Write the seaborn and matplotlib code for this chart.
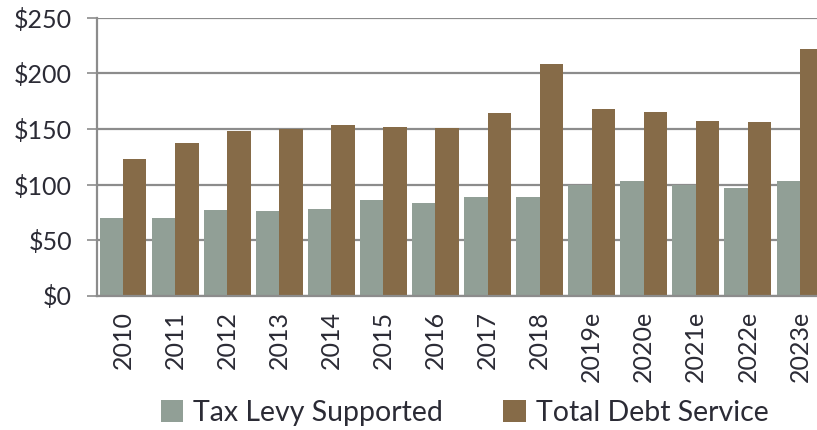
import matplotlib
matplotlib.use("Agg")
import matplotlib.pyplot as plt
import seaborn as sns
import pandas as pd
import numpy as np

years = ["2010", "2011", "2012", "2013", "2014", "2015", "2016",
         "2017", "2018", "2019e", "2020e", "2021e", "2022e", "2023e"]
tax_levy = [70, 70, 77, 76, 78, 86, 83, 89, 89, 100, 103, 100, 97, 103]
total_debt = [123, 137, 148, 150, 154, 152, 151, 164, 209, 168, 165, 157, 156, 222]
series = ["Tax Levy Supported", "Total Debt Service"]
colors = ["#919f96", "#866b48"]

df = pd.DataFrame({
    "Year": years * 2,
    "Amount": tax_levy + total_debt,
    "Series": [series[0]] * len(years) + [series[1]] * len(years),
})

sns.set_style("white")
plt.rcParams["font.family"] = ["Lato", "DejaVu Sans"]
text_color = "#2b2b35"
line_color = "#8c8c8c"

fig = plt.figure(figsize=(8.17, 4.30), dpi=100)
ax = fig.add_axes([97 / 817, (430 - 295.5) / 430, 729 / 817, 277.5 / 430])

sns.barplot(data=df, x="Year", y="Amount", hue="Series", palette=colors,
            width=0.9, saturation=1, linewidth=0, ax=ax)

ax.set_ylim(0, 250)
ax.set_xlim(-0.5, len(years) - 0.5)
ax.set_yticks(range(0, 251, 50))
ax.set_yticklabels([f"${v}" for v in range(0, 251, 50)])
ax.set_axisbelow(True)
ax.yaxis.grid(True, color=line_color, lw=1.6)
ax.xaxis.grid(False)

ax.set_xticks(np.arange(-0.5, len(years), 1), minor=True)
ax.tick_params(axis="x", which="major", length=0, rotation=90, pad=11,
               labelsize=18, labelcolor=text_color)
ax.tick_params(axis="x", which="minor", length=7, width=1.2, color=line_color)
ax.tick_params(axis="y", length=7, width=1.2, color=line_color, pad=11,
               labelsize=18, labelcolor=text_color, left=True)

for side in ["top", "right"]:
    ax.spines[side].set_visible(False)
for side in ["left", "bottom"]:
    ax.spines[side].set_color(line_color)
    ax.spines[side].set_linewidth(1.6)

ax.set_xlabel("")
ax.set_ylabel("")
handles, labels = ax.get_legend_handles_labels()
ax.get_legend().remove()
fig.legend(handles, labels, loc="center", bbox_to_anchor=(464.5 / 817, 1 - 413 / 430),
           ncol=2, frameon=False, fontsize=20.5, labelcolor=text_color,
           handlelength=0.8, handleheight=0.8, handletextpad=0.35,
           columnspacing=2.1)

fig.savefig("out.png", dpi=100)
